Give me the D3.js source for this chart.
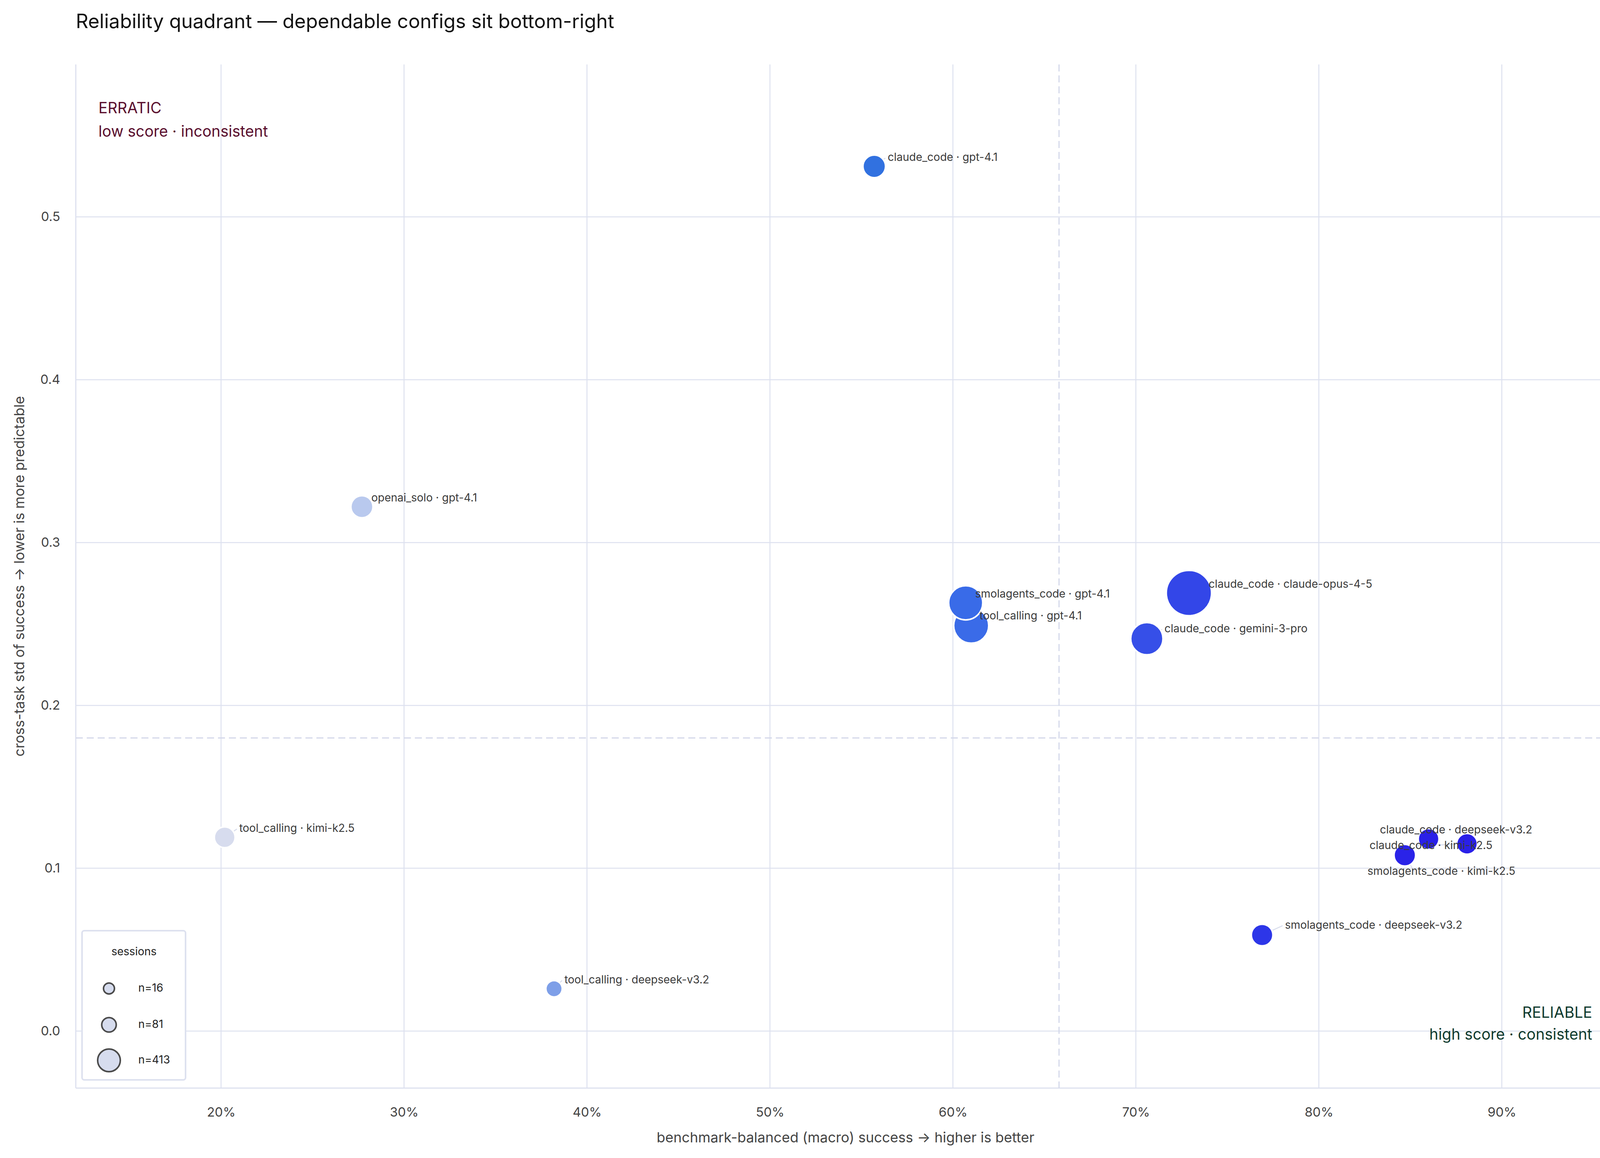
<!DOCTYPE html>
<html>
<head>
<meta charset="UTF-8">
<title>Reliability quadrant</title>
<script src="https://cdn.jsdelivr.net/npm/d3@7"></script>
<style>
  body { margin: 0; background: #fff; }
  text { font-family: Inter, "Noto Sans", sans-serif; }
</style>
</head>
<body>
<div id="chart"></div>
<script>
// data
var names = ["claude_code · gpt-4.1", "openai_solo · gpt-4.1", "smolagents_code · gpt-4.1",
  "tool_calling · gpt-4.1", "claude_code · claude-opus-4-5", "claude_code · gemini-3-pro",
  "tool_calling · kimi-k2.5", "tool_calling · deepseek-v3.2", "smolagents_code · deepseek-v3.2",
  "claude_code · deepseek-v3.2", "claude_code · kimi-k2.5", "smolagents_code · kimi-k2.5"];
var macroSuccess = [0.557, 0.277, 0.607, 0.610, 0.729, 0.706, 0.202, 0.382, 0.769, 0.860, 0.881, 0.847];
var stdSuccess   = [0.531, 0.322, 0.263, 0.249, 0.269, 0.241, 0.119, 0.026, 0.059, 0.118, 0.115, 0.108];
var sessions     = [56, 52, 196, 211, 413, 168, 42, 16, 48, 42, 42, 48];
var legendSizes  = [16, 81, 413];
var xTicks = [0.2, 0.3, 0.4, 0.5, 0.6, 0.7, 0.8, 0.9];
var yTicks = [0.0, 0.1, 0.2, 0.3, 0.4, 0.5];
var xThreshold = 0.658, yThreshold = 0.18;

// label placement (display px offsets, scaled below)
var labelDx = [13, 9, 9, 8, 19, 17, 14, 10, 22, -47, -94, -36];
var labelDy = [-8, -8, -8, -9, -8, -9, -8, -8, -9, -8, 2, 16];

var W = 4165, H = 2965, s = 2.656;
var m = { left: 194, right: 4165 - 4135, top: 165, bottom: 2965 - 2786 };

var svg = d3.select("#chart").append("svg").attr("width", W).attr("height", H);

var x = d3.scaleLinear().domain([0.1206, 0.962]).range([m.left, W - m.right]);
var y = d3.scaleLinear().domain([-0.035, 0.5936]).range([H - m.bottom, m.top]);
var r = d3.scaleSqrt().domain([16, 413]).range([21, 58]);
var rLeg = d3.scaleLinear().domain([4, Math.sqrt(413)]).range([14, 29]);
var color = d3.scaleLinear()
  .domain([0.2, 0.28, 0.38, 0.56, 0.61, 0.71, 0.77, 0.86])
  .range(["#d8dcee", "#b8c8ee", "#7fa0e8", "#3070e0", "#3a6be8", "#364ee8", "#2d36e8", "#2a20e8"])
  .clamp(true);

var grid = "#dde1ef";

// grid
svg.append("g").selectAll("line").data(xTicks).enter().append("line")
  .attr("x1", d => x(d)).attr("x2", d => x(d))
  .attr("y1", m.top).attr("y2", H - m.bottom)
  .style("stroke", grid).style("stroke-width", 2.5);
svg.append("g").selectAll("line").data(yTicks).enter().append("line")
  .attr("x1", m.left).attr("x2", W - m.right)
  .attr("y1", d => y(d)).attr("y2", d => y(d))
  .style("stroke", grid).style("stroke-width", 2.5);

// axes frame
svg.append("line").attr("x1", m.left).attr("x2", m.left).attr("y1", m.top).attr("y2", H - m.bottom)
  .style("stroke", grid).style("stroke-width", 3);
svg.append("line").attr("x1", m.left).attr("x2", W - m.right).attr("y1", H - m.bottom).attr("y2", H - m.bottom)
  .style("stroke", grid).style("stroke-width", 3);

// tick labels via axes
var xAxis = svg.append("g").attr("transform", "translate(0," + (H - m.bottom) + ")")
  .call(d3.axisBottom(x).tickValues(xTicks).tickFormat(d3.format(".0%")).tickSize(0).tickPadding(50));
var yAxis = svg.append("g").attr("transform", "translate(" + m.left + ",0)")
  .call(d3.axisLeft(y).tickValues(yTicks).tickFormat(d3.format(".1f")).tickSize(0).tickPadding(40));
[xAxis, yAxis].forEach(function (a) {
  a.select(".domain").remove();
  a.selectAll("text").style("font-size", "33px").style("fill", "#444").style("font-family", "Inter, sans-serif");
});

// thresholds
svg.append("line").attr("x1", x(xThreshold)).attr("x2", x(xThreshold)).attr("y1", m.top).attr("y2", H - m.bottom)
  .style("stroke", "#d4d8ea").style("stroke-width", 3).style("stroke-dasharray", "18,10");
svg.append("line").attr("x1", m.left).attr("x2", W - m.right).attr("y1", y(yThreshold)).attr("y2", y(yThreshold))
  .style("stroke", "#d4d8ea").style("stroke-width", 3).style("stroke-dasharray", "18,10");

// title & axis labels
svg.append("text").attr("x", m.left).attr("y", 72).text("Reliability quadrant — dependable configs sit bottom-right")
  .style("font-size", "50px").style("fill", "#111");
svg.append("text").attr("x", (m.left + W - m.right) / 2).attr("y", 2925).attr("text-anchor", "middle")
  .text("benchmark-balanced (macro) success → higher is better")
  .style("font-size", "36px").style("fill", "#444");
svg.append("text").attr("transform", "translate(62," + ((m.top + H - m.bottom) / 2) + ") rotate(-90)")
  .attr("text-anchor", "middle").text("cross-task std of success → lower is more predictable")
  .style("font-size", "36px").style("fill", "#444");

// quadrant annotations
svg.append("text").attr("x", 252).attr("y", 290).text("ERRATIC").style("font-size", "39px").style("fill", "#5a0f2e");
svg.append("text").attr("x", 252).attr("y", 350).text("low score · inconsistent").style("font-size", "39px").style("fill", "#5a0f2e");
svg.append("text").attr("x", 4076).attr("y", 2606).attr("text-anchor", "end").text("RELIABLE").style("font-size", "39px").style("fill", "#0f3a2e");
svg.append("text").attr("x", 4076).attr("y", 2662).attr("text-anchor", "end").text("high score · consistent").style("font-size", "39px").style("fill", "#0f3a2e");

var pts = names.map(function (n, i) {
  return { name: n, x: macroSuccess[i], y: stdSuccess[i], n: sessions[i], dx: labelDx[i] * s, dy: labelDy[i] * s };
});

// leader lines
svg.append("g").selectAll("line").data(pts).enter().append("line")
  .attr("x1", d => x(d.x)).attr("y1", d => y(d.y))
  .attr("x2", d => x(d.x) + (d.dx > 0 ? d.dx - 6 : d.dx + 120)).attr("y2", d => y(d.y) + d.dy)
  .style("stroke", "#d8dcec").style("stroke-width", 2.5);

// bubbles (biggest first)
svg.append("g").selectAll("circle")
  .data(pts.slice().sort((a, b) => b.n - a.n)).enter().append("circle")
  .attr("cx", d => x(d.x)).attr("cy", d => y(d.y)).attr("r", d => r(d.n))
  .style("fill", d => color(d.x)).style("stroke", "#fff").style("stroke-width", 4);

// labels
svg.append("g").selectAll("text").data(pts).enter().append("text")
  .attr("x", d => x(d.x) + d.dx).attr("y", d => y(d.y) + d.dy)
  .attr("dominant-baseline", "middle")
  .text(d => d.name).style("font-size", "28px").style("fill", "#3a3a3a");

// size legend
var lg = svg.append("g");
lg.append("rect").attr("x", 210).attr("y", 2383).attr("width", 265).attr("height", 382).attr("rx", 6)
  .style("fill", "#fff").style("stroke", "#dde1ef").style("stroke-width", 4);
lg.append("text").attr("x", 343).attr("y", 2446).attr("text-anchor", "middle").text("sessions")
  .style("font-size", "28px").style("fill", "#222");
var legY = [2531, 2624, 2715];
legendSizes.forEach(function (n, i) {
  lg.append("circle").attr("cx", 279).attr("cy", legY[i]).attr("r", rLeg(Math.sqrt(n)))
    .style("fill", "#d6dcee").style("stroke", "#4a4a4a").style("stroke-width", 4);
  lg.append("text").attr("x", 354).attr("y", legY[i]).attr("dominant-baseline", "middle")
    .text("n=" + n).style("font-size", "28px").style("fill", "#222");
});
</script>
</body>
</html>
